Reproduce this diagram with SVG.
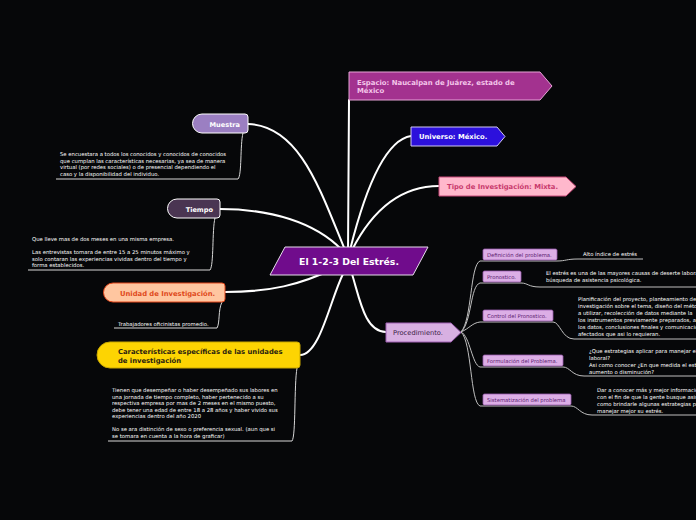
<svg xmlns="http://www.w3.org/2000/svg" width="696" height="520" viewBox="0 0 696 520">
<style>
.bg{fill:#060709}
.main{fill:none;stroke:#ffffff;stroke-width:2;stroke-linecap:round}
.thin{fill:none;stroke:#d8d8d8;stroke-width:1}
.sub{fill:none;stroke:#bfbfbf;stroke-width:1}
.nt{font-family:"DejaVu Sans",Verdana,sans-serif;font-weight:bold}
.lt{font-family:"DejaVu Sans",Verdana,sans-serif;font-size:5.3px;fill:#ffffff}
.pt{font-family:"DejaVu Sans",Verdana,sans-serif;font-size:5.3px;fill:#5a2070}
.pbox{fill:#dcaee6;stroke:#9a5aae;stroke-width:0.8}
</style>
<rect class="bg" x="0" y="0" width="696" height="520"/>
<g id="connectors">
<path class="main" d="M348,252 L349,100"/>
<path class="main" d="M350,250 C365,190 385,140 411,136"/>
<path class="main" d="M352,250 C375,205 405,186 439,186"/>
<path class="main" d="M345,250 C320,190 300,126 248,124"/>
<path class="main" d="M342,250 C315,222 270,209 220,209"/>
<path class="main" d="M335,268 C300,285 270,292 225,292"/>
<path class="main" d="M343,274 C330,300 320,355 300,355"/>
<path class="main" d="M352,274 C360,300 365,332 386,332"/>
<path class="thin" d="M243,133 C240,145 242,175 238,179 L56,179"/>
<path class="thin" d="M215,218 C212,230 214,265 210,270 L28,270"/>
<path class="thin" d="M222,302 C218,310 220,323 217,328 L114,328"/>
<path class="thin" d="M297,368 C294,385 296,436 292,441 L108,441"/>
<path class="sub" d="M461,332 C472,320 470,265 480,261 L557,261 C566,261 566,259 578,259 L643,259"/>
<path class="sub" d="M461,332 C472,322 470,286 480,283 L521,283 C528,283 528,287 540,287 L696,287"/>
<path class="sub" d="M461,332 C470,328 472,323 480,322 L553,322 C560,322 562,339 574,339 L696,339"/>
<path class="sub" d="M461,332 C470,336 472,365 480,367 L563,367 C570,367 572,376 584,376 L696,376"/>
<path class="sub" d="M461,332 C472,342 470,402 480,406 L571,406 C578,406 580,415 592,415 L696,415"/>
</g>
<g id="center">
<polygon points="285,247 428,247 413,275 270,275" fill="#700c8c" stroke="#e6dcec" stroke-width="1"/>
<text class="nt" x="349" y="264.5" font-size="9.3" fill="#ffffff" text-anchor="middle">El 1-2-3 Del Estrés.</text>
</g>
<g id="espacio">
<polygon points="349,72 540,72 552,86 540,100 349,100" fill="#a3328f" stroke="#e7a4d8" stroke-width="1"/>
<text class="nt" x="357" y="84.5" font-size="6.9" fill="#f4c6ea">Espacio: Naucalpan de Juárez, estado de</text>
<text class="nt" x="357" y="93" font-size="6.9" fill="#f4c6ea">México</text>
</g>
<g id="universo">
<polygon points="411,127 497,127 505,136.5 497,146 411,146" fill="#2c10dc" stroke="#d0c8f4" stroke-width="1"/>
<text class="nt" x="419" y="139" font-size="6.8" fill="#ffffff">Universo: México.</text>
</g>
<g id="tipo">
<polygon points="439,177 566,177 576,186.5 566,196 439,196" fill="#ffb8cc" stroke="#c64878" stroke-width="1"/>
<text class="nt" x="447" y="189" font-size="6.8" fill="#c83a6c">Tipo de Investigación: Mixta.</text>
</g>
<g id="muestra">
<path d="M202,114 H245 Q248,114 248,117 V130 Q248,133 245,133 H202 A9.5,9.5 0 0 1 202,114 Z" fill="#9b7fc2" stroke="#ffffff" stroke-width="1"/>
<text class="nt" x="240" y="127" font-size="6.6" fill="#ffffff" text-anchor="end">Muestra</text>
<text class="lt" x="60" y="156">Se encuestara a todos los conocidos y conocidos de conocidos</text>
<text class="lt" x="60" y="162.5">que cumplan las características necesarias, ya sea de manera</text>
<text class="lt" x="60" y="169">virtual (por redes sociales) o de presencial dependiendo el</text>
<text class="lt" x="60" y="175.5">caso y la disponibilidad del individuo.</text>
</g>
<g id="tiempo">
<path d="M177,199 H217 Q220,199 220,202 V215 Q220,218 217,218 H177 A9.5,9.5 0 0 1 177,199 Z" fill="#4a3552" stroke="#ffffff" stroke-width="1"/>
<text class="nt" x="213" y="212" font-size="6.6" fill="#ffffff" text-anchor="end">Tiempo</text>
<text class="lt" x="32" y="241">Que lleve mas de dos meses en una misma empresa.</text>
<text class="lt" x="32" y="254">Las entrevistas tomara de entre 15 a 25 minutos máximo y</text>
<text class="lt" x="32" y="260.5">solo contaran las experiencias vividas dentro del tiempo y</text>
<text class="lt" x="32" y="267">forma establecidos.</text>
</g>
<g id="unidad">
<path d="M113,283 H222 Q225,283 225,286 V299 Q225,302 222,302 H113 A9.5,9.5 0 0 1 113,283 Z" fill="#ffc6a0" stroke="#e4461a" stroke-width="1"/>
<text class="nt" x="120" y="295.5" font-size="6.8" fill="#e04a1c">Unidad de Investigación.</text>
<text class="lt" x="118" y="325.5">Trabajadores oficinistas promedio.</text>
</g>
<g id="caracteristicas">
<path d="M110,342 H297 Q300,342 300,345 V365 Q300,368 297,368 H110 A13,13 0 0 1 110,342 Z" fill="#fdd402" stroke="#c9a800" stroke-width="1"/>
<text class="nt" x="118" y="354" font-size="6.8" fill="#2a2210">Características específicas de las unidades</text>
<text class="nt" x="118" y="362.5" font-size="6.8" fill="#2a2210">de investigación</text>
<text class="lt" x="112" y="392">Tienen que desempeñar o haber desempeñado sus labores en</text>
<text class="lt" x="112" y="398.5">una jornada de tiempo completo, haber pertenecido a su</text>
<text class="lt" x="112" y="405">respectiva empresa por mas de 2 meses en el mismo puesto,</text>
<text class="lt" x="112" y="411.5">debe tener una edad de entre 18 a 28 años y haber vivido sus</text>
<text class="lt" x="112" y="418">experiencias dentro del año 2020</text>
<text class="lt" x="112" y="431">No se ara distinción de sexo o preferencia sexual. (aun que si</text>
<text class="lt" x="112" y="437.5">se tomara en cuenta a la hora de graficar)</text>
</g>
<g id="procedimiento">
<polygon points="386,323 451,323 461,332.5 451,342 386,342" fill="#d8b0e2" stroke="#a060b4" stroke-width="1"/>
<text font-family="DejaVu Sans,Verdana,sans-serif" x="393" y="335" font-size="6.7" fill="#3a2046">Procedimiento.</text>
</g>
<g id="definicion">
<rect class="pbox" x="483" y="249" width="74" height="11" rx="1.5"/>
<text class="pt" x="487" y="256.5">Definición del problema.</text>
<text class="lt" x="583" y="256">Alto índice de estrés</text>
</g>
<g id="pronostico">
<rect class="pbox" x="483" y="271" width="38" height="11" rx="1.5"/>
<text class="pt" x="487" y="278.5">Pronostico.</text>
<text class="lt" x="546" y="274.5">El estrés es una de las mayores causas de deserte laboral</text>
<text class="lt" x="546" y="282">búsqueda de asistencia psicológica.</text>
</g>
<g id="control">
<rect class="pbox" x="483" y="310" width="70" height="11" rx="1.5"/>
<text class="pt" x="487" y="317.5">Control del Pronostico.</text>
<text class="lt" x="578" y="301">Planificación del proyecto, planteamiento del</text>
<text class="lt" x="578" y="308">investigación sobre el tema, diseño del método</text>
<text class="lt" x="578" y="315">a utilizar, recolección de datos mediante la</text>
<text class="lt" x="578" y="322">los instrumentos previamente preparados, an</text>
<text class="lt" x="578" y="329">los datos, conclusiones finales y comunicación</text>
<text class="lt" x="578" y="336">afectados que asi lo requieran.</text>
</g>
<g id="formulacion">
<rect class="pbox" x="483" y="355" width="80" height="11" rx="1.5"/>
<text class="pt" x="487" y="362.5">Formulación del Problema.</text>
<text class="lt" x="589" y="353">¿Que estrategias aplicar para manejar el</text>
<text class="lt" x="589" y="360">laboral?</text>
<text class="lt" x="589" y="367">Asi como conocer ¿En que medida el estrés</text>
<text class="lt" x="589" y="374">aumento o disminución?</text>
</g>
<g id="sistematizacion">
<rect class="pbox" x="483" y="394" width="88" height="11" rx="1.5"/>
<text class="pt" x="487" y="401.5">Sistematización del problema</text>
<text class="lt" x="597" y="392">Dar a conocer más y mejor información</text>
<text class="lt" x="597" y="399">con el fin de que la gente busque asistencia</text>
<text class="lt" x="597" y="406">como brindarle algunas estrategias para</text>
<text class="lt" x="597" y="412.5">manejar mejor su estrés.</text>
</g>
</svg>
